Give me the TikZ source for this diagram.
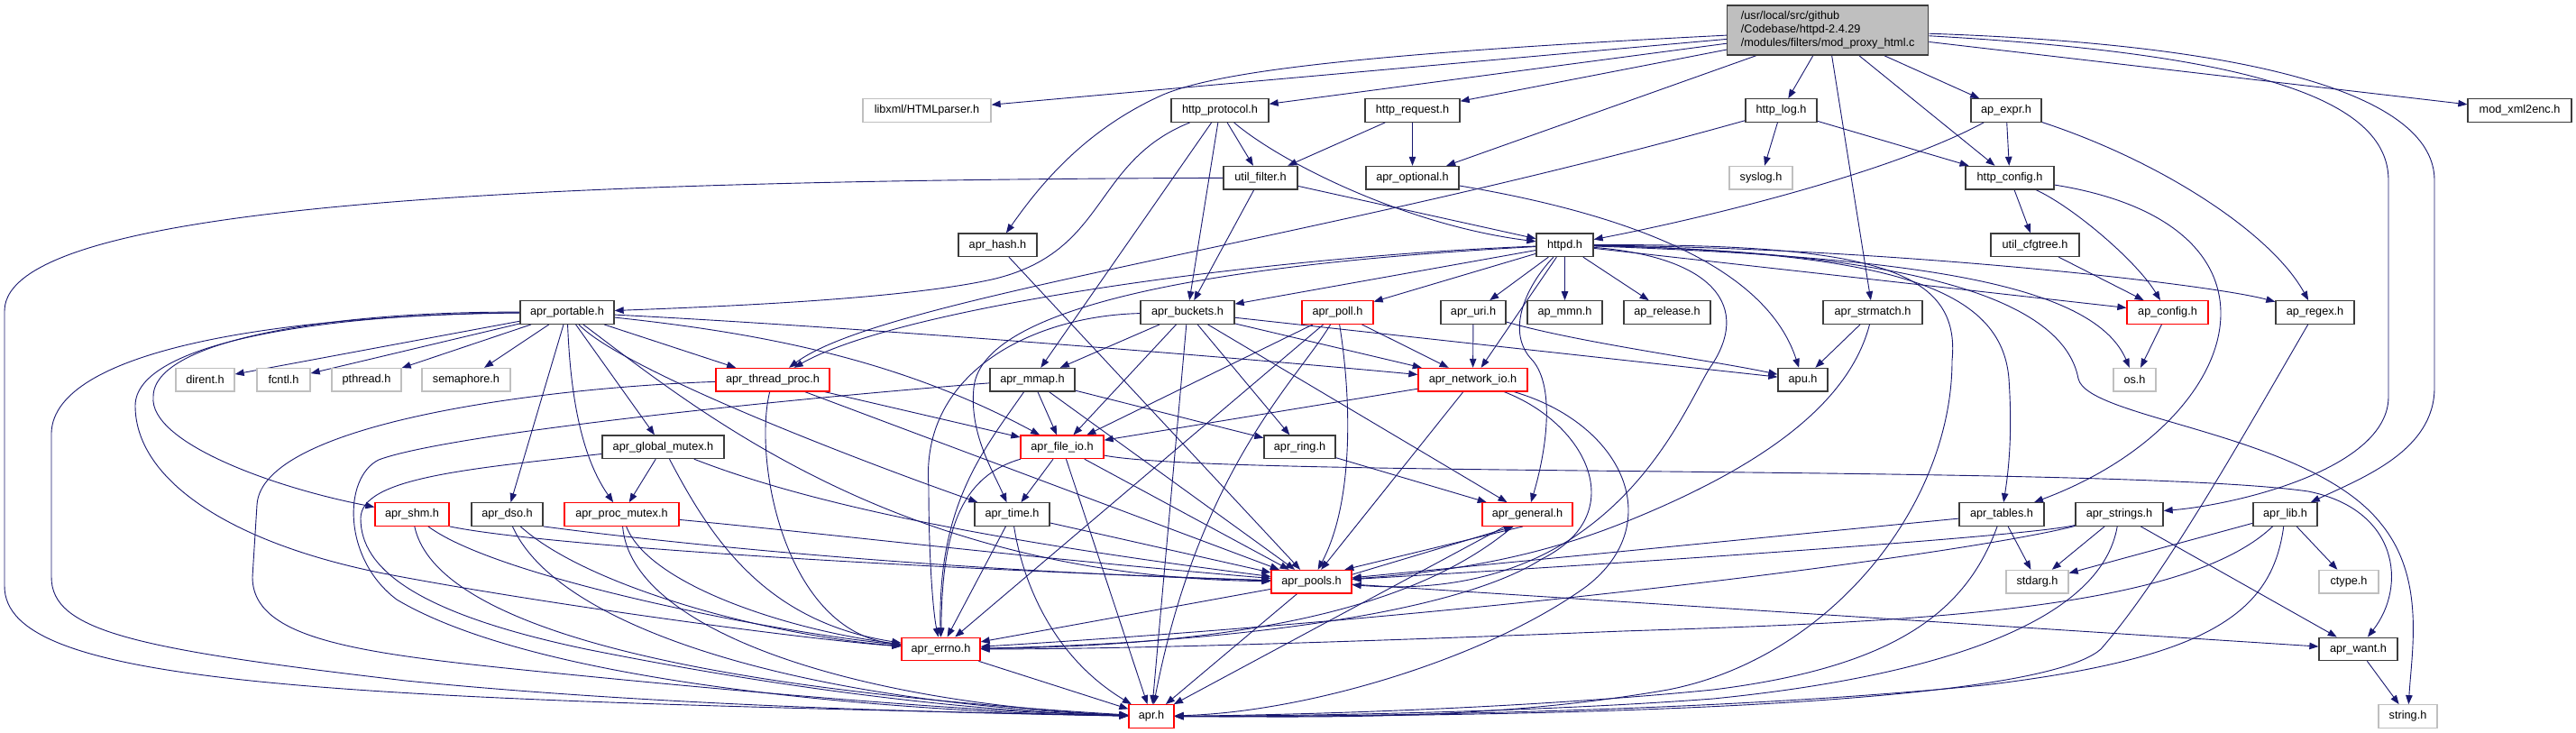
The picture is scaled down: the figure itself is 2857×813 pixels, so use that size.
\documentclass[tikz,border=0pt]{standalone}
\usepackage{fontspec}
\setmainfont{Liberation Sans}
\usetikzlibrary{arrows.meta}
\definecolor{edgec}{RGB}{25,25,112}
\definecolor{lightgr}{RGB}{191,191,191}
\definecolor{boxk}{RGB}{60,60,60}
\newcommand\fsz{\fontsize{12.7pt}{15pt}\selectfont}
\pgfdeclarelayer{bglayer}
\pgfdeclarelayer{edgelayer}
\pgfsetlayers{bglayer,edgelayer,main}
\tikzset{
  bx/.style={draw=boxk, line width=1.3pt, fill=white, minimum height=25.5pt, inner sep=0pt, font=\fsz, text=black},
  gbx/.style={bx, draw=lightgr},
  rbx/.style={bx, draw=red},
  e/.style={draw=edgec, line width=0.9pt, -{Triangle[length=10pt,width=7.5pt]}},
}
\begin{document}
\begin{tikzpicture}[x=1pt,y=-1pt]
\begin{pgfonlayer}{bglayer}
\fill[white] (0,0) rectangle (2857,813);
\end{pgfonlayer}
\useasboundingbox (0,0) rectangle (2857,813);
% row 0
\node[bx, fill=lightgr, anchor=west, minimum width=223pt, minimum height=55pt, align=left, inner xsep=11pt] (root) at (1915,33.5) {/usr/local/src/github\\/Codebase/httpd-2.4.29\\/modules/filters/mod\_proxy\_html.c};
% row 1
\node[gbx, minimum width=142pt] (libxml) at (1028,122.5) {libxml/HTMLparser.h};
\node[bx, minimum width=108pt] (httpprotocol) at (1353,122.5) {http\_protocol.h};
\node[bx, minimum width=105pt] (httprequest) at (1566.5,122.5) {http\_request.h};
\node[bx, minimum width=79pt] (httplog) at (1975.5,122.5) {http\_log.h};
\node[bx, minimum width=78pt] (apexpr) at (2225,122.5) {ap\_expr.h};
\node[bx, minimum width=115pt] (modxml) at (2794.5,122.5) {mod\_xml2enc.h};
% row 2
\node[bx, minimum width=82pt] (utilfilter) at (1398,197.2) {util\_filter.h};
\node[bx, minimum width=103pt] (aproptional) at (1566.5,197.2) {apr\_optional.h};
\node[gbx, minimum width=70pt] (syslog) at (1953,197.2) {syslog.h};
\node[bx, minimum width=98pt] (httpconfig) at (2229,197.2) {http\_config.h};
% row 3
\node[bx, minimum width=87pt] (aprhash) at (1106.5,271.8) {apr\_hash.h};
\node[bx, minimum width=63pt] (httpd) at (1735.5,271.8) {httpd.h};
\node[bx, minimum width=98pt] (utilcfgtree) at (2257,271.8) {util\_cfgtree.h};
% row 4
\node[bx, minimum width=104pt] (aprportable) at (629,346.5) {apr\_portable.h};
\node[bx, minimum width=104pt] (aprbuckets) at (1317,346.5) {apr\_buckets.h};
\node[rbx, minimum width=79pt] (aprpoll) at (1483.5,346.5) {apr\_poll.h};
\node[bx, minimum width=72pt] (apruri) at (1634,346.5) {apr\_uri.h};
\node[bx, minimum width=83pt] (apmmn) at (1735.5,346.5) {ap\_mmn.h};
\node[bx, minimum width=96pt] (aprelease) at (1849,346.5) {ap\_release.h};
\node[bx, minimum width=110pt] (aprstrmatch) at (2077,346.5) {apr\_strmatch.h};
\node[rbx, minimum width=90pt] (apconfig) at (2404,346.5) {ap\_config.h};
\node[bx, minimum width=87pt] (apregex) at (2567.5,346.5) {ap\_regex.h};
% row 5
\node[gbx, minimum width=65pt] (dirent) at (227.5,421.2) {dirent.h};
\node[gbx, minimum width=59pt] (fcntl) at (314.5,421.2) {fcntl.h};
\node[gbx, minimum width=77pt] (pthread) at (406.5,421.2) {pthread.h};
\node[gbx, minimum width=98pt] (semaphore) at (517,421.2) {semaphore.h};
\node[rbx, minimum width=126pt] (aprthreadproc) at (857,421.2) {apr\_thread\_proc.h};
\node[bx, minimum width=94pt] (aprmmap) at (1145,421.2) {apr\_mmap.h};
\node[rbx, minimum width=121pt] (aprnetworkio) at (1633.5,421.2) {apr\_network\_io.h};
\node[bx, minimum width=55pt] (apu) at (1999.5,421.2) {apu.h};
\node[gbx, minimum width=47pt] (os) at (2367.5,421.2) {os.h};
% row 6
\node[bx, minimum width=135pt] (aprglobalmutex) at (735.5,495.8) {apr\_global\_mutex.h};
\node[rbx, minimum width=92pt] (aprfileio) at (1178,495.8) {apr\_file\_io.h};
\node[bx, minimum width=79pt] (aprring) at (1441.5,495.8) {apr\_ring.h};
% row 7
\node[rbx, minimum width=82pt] (aprshm) at (457,570.5) {apr\_shm.h};
\node[bx, minimum width=79pt] (aprdso) at (562.5,570.5) {apr\_dso.h};
\node[rbx, minimum width=127pt] (aprprocmutex) at (689.5,570.5) {apr\_proc\_mutex.h};
\node[bx, minimum width=83pt] (aprtime) at (1122.5,570.5) {apr\_time.h};
\node[rbx, minimum width=100pt] (aprgeneral) at (1694,570.5) {apr\_general.h};
\node[bx, minimum width=94pt] (aprtables) at (2220,570.5) {apr\_tables.h};
\node[bx, minimum width=97pt] (aprstrings) at (2350.5,570.5) {apr\_strings.h};
\node[bx, minimum width=71pt] (aprlib) at (2534.5,570.5) {apr\_lib.h};
% row 8
\node[rbx, minimum width=89pt] (aprpools) at (1454.5,645.2) {apr\_pools.h};
\node[gbx, minimum width=69pt] (stdarg) at (2259.5,645.2) {stdarg.h};
\node[gbx, minimum width=66pt] (ctype) at (2605,645.2) {ctype.h};
% row 9
\node[rbx, minimum width=87pt] (aprerrno) at (1043.5,719.9) {apr\_errno.h};
\node[bx, minimum width=87pt] (aprwant) at (2615.5,719.9) {apr\_want.h};
% row 10
\node[rbx, minimum width=50pt] (apr) at (1277,794.5) {apr.h};
\node[gbx, minimum width=65pt] (string) at (2670.5,794.5) {string.h};

\begin{pgfonlayer}{edgelayer}
% root
\draw[e] (root) -- (libxml);
\draw[e] (root) -- (httpprotocol);
\draw[e] (root) -- (httprequest);
\draw[e] (root) .. controls (1500,60) and (1350,80) .. (1290,105) .. controls (1200,145) and (1150,210) .. (aprhash);
\draw[e] (root) -- (aproptional);
\draw[e] (root) -- (httplog);
\draw[e] (root) -- (aprstrmatch);
\draw[e] (root) -- (httpconfig);
\draw[e] (root) -- (apexpr);
\draw[e] (root) -- (modxml);
\draw[e] (root) .. controls (2500,60) and (2649,110) .. (2649,200) -- (2649,440) .. controls (2649,520) and (2480,560) .. (aprstrings);
\draw[e] (root) .. controls (2520,50) and (2700,110) .. (2700,200) -- (2700,430) .. controls (2700,500) and (2620,530) .. (aprlib);
% http_protocol
\draw[e] (httpprotocol) .. controls (1420,180) and (1560,250) .. (httpd);
\draw[e] (httpprotocol) -- (utilfilter);
\draw[e] (httpprotocol) -- (aprbuckets);
\draw[e] (httpprotocol) -- (aprmmap);
\draw[e] (httpprotocol) .. controls (1210,180) and (1230,280) .. (1100,310) .. controls (1000,332) and (800,340) .. (aprportable);
% http_request
\draw[e] (httprequest) -- (aproptional);
\draw[e] (httprequest) -- (utilfilter);
% http_log
\draw[e] (httplog) .. controls (1450,270) and (980,330) .. (aprthreadproc);
\draw[e] (httplog) -- (httpconfig);
\draw[e] (httplog) -- (syslog);
% ap_expr
\draw[e] (apexpr) .. controls (2100,190) and (1900,240) .. (httpd);
\draw[e] (apexpr) -- (httpconfig);
\draw[e] (apexpr) .. controls (2400,180) and (2520,260) .. (apregex);
% util_filter
\draw[e] (utilfilter) .. controls (600,200) and (5,225) .. (5,345) -- (5,650) .. controls (5,760) and (350,775) .. (apr);
\draw[e] (utilfilter) -- (aprbuckets);
\draw[e] (utilfilter) -- (httpd);
% apr_optional
\draw[e] (aproptional) .. controls (1820,240) and (1960,300) .. (apu);
% http_config
\draw[e] (httpconfig) -- (utilcfgtree);
\draw[e] (httpconfig) .. controls (2300,230) and (2370,290) .. (apconfig);
\draw[e] (httpconfig) .. controls (2560,250) and (2490,470) .. (aprtables);
% util_cfgtree
\draw[e] (utilcfgtree) -- (apconfig);
% apr_hash
\draw[e] (aprhash) -- (aprpools);
% httpd
\draw[e] (httpd) -- (apconfig);
\draw[e] (httpd) -- (apmmn);
\draw[e] (httpd) -- (aprelease);
\draw[e] (httpd) .. controls (2080,270) and (2175,300) .. (2165,400) .. controls (2165,560) and (2030,730) .. (1850,765) .. controls (1650,800) and (1450,795) .. (apr);
\draw[e] (httpd) .. controls (1690,320) and (1670,370) .. (1700,400) .. controls (1725,430) and (1715,500) .. (aprgeneral);
\draw[e] (httpd) .. controls (2100,280) and (2220,320) .. (2228,420) .. controls (2232,480) and (2228,520) .. (aprtables);
\draw[e] (httpd) .. controls (1900,285) and (1945,340) .. (1895,410) .. controls (1860,470) and (1780,670) .. (aprpools);
\draw[e] (httpd) .. controls (1400,290) and (1090,330) .. (1080,430) .. controls (1075,480) and (1100,520) .. (aprtime);
\draw[e] (httpd) -- (aprnetworkio);
\draw[e] (httpd) -- (aprbuckets);
\draw[e] (httpd) -- (aprpoll);
\draw[e] (httpd) .. controls (1400,285) and (1000,340) .. (aprthreadproc);
\draw[e] (httpd) .. controls (2100,285) and (2320,310) .. (os);
\draw[e] (httpd) .. controls (2100,275) and (2450,315) .. (apregex);
\draw[e] (httpd) -- (apruri);
\draw[e] (httpd) .. controls (2150,280) and (2290,340) .. (2305,420) .. controls (2315,465) and (2560,480) .. (2640,580) .. controls (2690,640) and (2675,720) .. (string);
% apr_portable
\draw[e] (aprportable) -- (dirent);
\draw[e] (aprportable) -- (fcntl);
\draw[e] (aprportable) -- (pthread);
\draw[e] (aprportable) -- (semaphore);
\draw[e] (aprportable) .. controls (380,345) and (170,375) .. (170,440) .. controls (165,490) and (300,540) .. (aprshm);
\draw[e] (aprportable) .. controls (360,348) and (150,380) .. (150,450) .. controls (150,530) and (250,600) .. (420,635) .. controls (600,670) and (900,710) .. (aprerrno);
\draw[e] (aprportable) .. controls (300,350) and (60,390) .. (57,480) -- (57,640) .. controls (57,700) and (150,720) .. (450,755) .. controls (700,780) and (1000,790) .. (apr);
\draw[e] (aprportable) .. controls (780,460) and (1000,640) .. (aprpools);
\draw[e] (aprportable) .. controls (850,370) and (1000,400) .. (aprfileio);
\draw[e] (aprportable) .. controls (900,360) and (1300,390) .. (aprnetworkio);
\draw[e] (aprportable) -- (aprthreadproc);
\draw[e] (aprportable) .. controls (690,410) and (950,510) .. (aprtime);
\draw[e] (aprportable) -- (aprglobalmutex);
\draw[e] (aprportable) .. controls (632,420) and (640,500) .. (aprprocmutex);
\draw[e] (aprportable) -- (aprdso);
% apr_buckets
\draw[e] (aprbuckets) -- (apu);
\draw[e] (aprbuckets) -- (aprnetworkio);
\draw[e] (aprbuckets) -- (aprfileio);
\draw[e] (aprbuckets) -- (aprgeneral);
\draw[e] (aprbuckets) -- (aprmmap);
\draw[e] (aprbuckets) .. controls (1150,350) and (1020,410) .. (1030,540) .. controls (1030,620) and (1035,680) .. (aprerrno);
\draw[e] (aprbuckets) -- (aprring);
\draw[e] (aprbuckets) -- (apr);
% apr_poll
\draw[e] (aprpoll) .. controls (1500,450) and (1500,560) .. (aprpools);
\draw[e] (aprpoll) -- (aprerrno);
\draw[e] (aprpoll) .. controls (1440,420) and (1330,520) .. (apr);
\draw[e] (aprpoll) -- (aprfileio);
\draw[e] (aprpoll) -- (aprnetworkio);
% apr_uri
\draw[e] (apruri) .. controls (1750,380) and (1900,400) .. (apu);
\draw[e] (apruri) -- (aprnetworkio);
% apr_strmatch
\draw[e] (aprstrmatch) -- (apu);
\draw[e] (aprstrmatch) .. controls (2050,450) and (1950,520) .. (1800,580) .. controls (1700,620) and (1600,635) .. (aprpools);
% ap_config, ap_regex
\draw[e] (apconfig) -- (os);
\draw[e] (apregex) .. controls (2490,480) and (2400,640) .. (2330,720) .. controls (2250,790) and (1600,795) .. (apr);
% apr_thread_proc
\draw[e] (aprthreadproc) .. controls (600,430) and (290,470) .. (285,560) -- (280,640) .. controls (280,710) and (400,725) .. (600,745) .. controls (900,775) and (1100,790) .. (apr);
\draw[e] (aprthreadproc) -- (aprfileio);
\draw[e] (aprthreadproc) -- (aprpools);
\draw[e] (aprthreadproc) .. controls (835,510) and (870,700) .. (aprerrno);
% apr_mmap
\draw[e] (aprmmap) .. controls (900,440) and (500,480) .. (420,510) .. controls (380,530) and (380,620) .. (440,665) .. controls (600,760) and (1000,790) .. (apr);
\draw[e] (aprmmap) -- (aprpools);
\draw[e] (aprmmap) .. controls (1090,500) and (1040,560) .. (aprerrno);
\draw[e] (aprmmap) -- (aprfileio);
\draw[e] (aprmmap) -- (aprring);
% apr_network_io
\draw[e] (aprnetworkio) -- (aprfileio);
\draw[e] (aprnetworkio) -- (aprpools);
\draw[e] (aprnetworkio) .. controls (1760,470) and (1810,570) .. (1710,620) .. controls (1600,690) and (1300,715) .. (aprerrno);
\draw[e] (aprnetworkio) .. controls (1800,470) and (1850,580) .. (1760,650) .. controls (1650,730) and (1450,790) .. (apr);
% apr_global_mutex
\draw[e] (aprglobalmutex) -- (aprprocmutex);
\draw[e] (aprglobalmutex) .. controls (900,560) and (1100,600) .. (aprpools);
\draw[e] (aprglobalmutex) .. controls (790,600) and (850,690) .. (aprerrno);
\draw[e] (aprglobalmutex) .. controls (520,520) and (400,530) .. (400,575) .. controls (400,630) and (460,680) .. (650,720) .. controls (900,770) and (1100,790) .. (apr);
% apr_file_io
\draw[e] (aprfileio) -- (aprtime);
\draw[e] (aprfileio) .. controls (1060,530) and (1045,600) .. (aprerrno);
\draw[e] (aprfileio) -- (apr);
\draw[e] (aprfileio) -- (aprpools);
\draw[e] (aprfileio) .. controls (1350,530) and (2350,515) .. (2560,545) .. controls (2660,565) and (2670,650) .. (aprwant);
% apr_ring
\draw[e] (aprring) -- (aprgeneral);
% apr_shm
\draw[e] (aprshm.south east) .. controls (600,605) and (1000,630) .. (aprpools);
\draw[e] (aprshm) .. controls (550,640) and (850,700) .. (aprerrno);
\draw[e] (aprshm) .. controls (480,680) and (700,760) .. (apr);
% apr_dso
\draw[e] (aprdso.south east) .. controls (800,610) and (1100,635) .. (aprpools);
\draw[e] (aprdso) .. controls (650,650) and (850,705) .. (aprerrno);
\draw[e] (aprdso) .. controls (620,700) and (900,780) .. (apr);
% apr_proc_mutex
\draw[e] (aprprocmutex) .. controls (900,590) and (1150,620) .. (aprpools);
\draw[e] (aprprocmutex) .. controls (720,650) and (880,700) .. (aprerrno);
\draw[e] (aprprocmutex) .. controls (700,700) and (950,780) .. (apr);
% apr_time
\draw[e] (aprtime) -- (aprerrno);
\draw[e] (aprtime) .. controls (1135,650) and (1170,730) .. (apr);
\draw[e] (aprtime) -- (aprpools);
% apr_general
\draw[e] (aprgeneral) -- (apr);
\draw[e] (aprgeneral.250) -- (aprpools.20);
\draw[e] (aprgeneral) .. controls (1600,650) and (1450,715) .. (aprerrno);
% apr_tables
\draw[e] (aprtables) -- (aprpools);
\draw[e] (aprtables) .. controls (2180,680) and (2100,740) .. (1900,765) .. controls (1700,785) and (1450,793) .. (apr);
\draw[e] (aprtables) -- (stdarg);
% apr_strings
\draw[e] (aprstrings) .. controls (2250,595) and (1800,625) .. (aprpools);
\draw[e] (aprstrings) .. controls (2200,610) and (1700,680) .. (aprerrno);
\draw[e] (aprstrings) .. controls (2330,690) and (2150,750) .. (1900,775) .. controls (1700,790) and (1450,794) .. (apr);
\draw[e] (aprstrings) -- (aprwant);
\draw[e] (aprstrings) -- (stdarg);
% apr_lib
\draw[e] (aprlib) -- (stdarg);
\draw[e] (aprlib) .. controls (2420,680) and (2100,690) .. (1800,700) .. controls (1500,712) and (1250,720) .. (aprerrno);
\draw[e] (aprlib) .. controls (2520,680) and (2450,730) .. (2200,760) .. controls (1900,790) and (1500,795) .. (apr);
\draw[e] (aprlib) -- (ctype);
% apr_pools
\draw[e] (aprpools) -- (apr);
\draw[e] (aprpools) -- (aprerrno);
\draw[e] (aprpools.10) -- (aprgeneral.220);
\draw[e] (aprpools) -- (aprwant);
% apr_errno, apr_want
\draw[e] (aprerrno) -- (apr);
\draw[e] (aprwant) -- (string);
\end{pgfonlayer}
\end{tikzpicture}
\end{document}
